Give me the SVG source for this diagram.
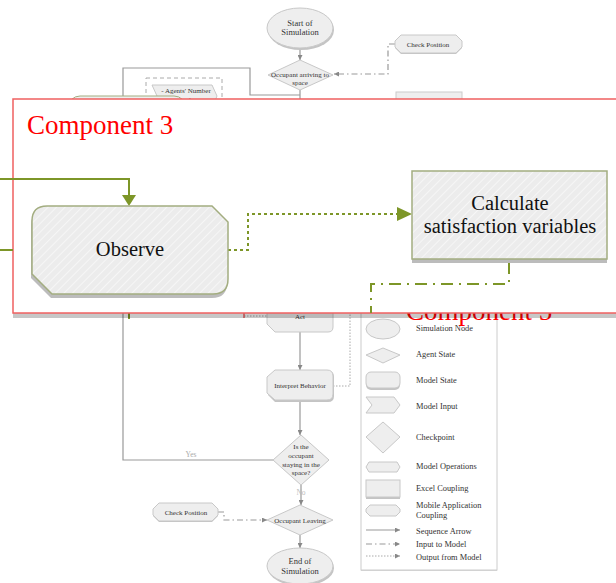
<svg xmlns="http://www.w3.org/2000/svg" width="616" height="583" viewBox="0 0 616 583">
<defs>
<pattern id="hatch" patternUnits="userSpaceOnUse" width="6" height="6" patternTransform="rotate(45)">
<rect width="6" height="6" fill="#ececec"/>
<line x1="0" y1="0" x2="0" y2="6" stroke="#f6f6f6" stroke-width="2"/>
</pattern>
<marker id="ag" viewBox="0 0 10 10" refX="10" refY="5" markerWidth="5" markerHeight="5" markerUnits="userSpaceOnUse" orient="auto">
<path d="M0,0 L10,5 L0,10 Z" fill="#888"/>
</marker>
</defs>
<style>
.t{font-family:"Liberation Serif","Times New Roman",serif;fill:#333;text-anchor:middle}
.s7{font-size:7px}
.s8{font-size:8.5px}
.lg{font-family:"Liberation Serif","Times New Roman",serif;fill:#333;font-size:8.4px}
.nd{fill:#eeeeee;stroke:#c8c8c8;stroke-width:1}
.sh{fill:#c4c4c4}
.fl{fill:none;stroke:#999;stroke-width:1.2}
.dd{fill:none;stroke:#999;stroke-width:1.2;stroke-dasharray:6,3,1.5,3}
.dt{fill:none;stroke:#aaa;stroke-width:1;stroke-dasharray:1.5,1.5}
.big{fill:url(#hatch);stroke:#a3ad80;stroke-width:1.5}
.ol{fill:none;stroke:#7d9628;stroke-width:2}
</style>

<g id="connectors">
<line class="fl" x1="300" y1="48" x2="300" y2="60" marker-end="url(#ag)"/>
<polyline class="fl" points="273,460 123,460 123,68 250,68 250,95 300,95"/>
<line class="fl" x1="300" y1="90" x2="300" y2="110"/>
<polyline class="dd" points="395,44 388,44 388,74 334,74" marker-end="url(#ag)"/>
<rect x="146" y="78" width="76" height="40" fill="none" stroke="#aaa" stroke-width="1" stroke-dasharray="4,3"/>
<line class="fl" x1="300" y1="332" x2="300" y2="370" marker-end="url(#ag)"/>
<polyline class="dt" points="333,386 350,386 350,300"/>
<line class="dt" x1="244" y1="316" x2="267" y2="316"/>
<line class="fl" x1="300" y1="400" x2="300" y2="435" marker-end="url(#ag)"/>
<line class="fl" x1="301" y1="485" x2="301" y2="505" marker-end="url(#ag)"/>
<polyline class="dd" points="218,512 224,512 224,520 267,520" marker-end="url(#ag)"/>
<line class="fl" x1="300" y1="535" x2="300" y2="548" marker-end="url(#ag)"/>
<line x1="129" y1="305" x2="129" y2="319" stroke="#7d9628" stroke-width="2"/>
<line x1="244" y1="305" x2="244" y2="318" stroke="#f06060" stroke-width="1.5"/>
</g>

<g id="start">
<ellipse cx="301" cy="30" rx="33" ry="20" class="sh"/>
<ellipse cx="300" cy="28" rx="33" ry="20" class="nd"/>
<text class="t s8" x="300" y="26">Start of</text>
<text class="t s8" x="300" y="35">Simulation</text>
</g>
<g id="arriving">
<polygon points="300,60 333,75 300,90 268,75" class="nd"/>
<text class="t s7" x="300" y="76.5">Occupant arriving to</text>
<text class="t s7" x="300" y="85">space</text>
</g>
<g id="check-top">
<polygon points="401,36 456,36 462,42 462,48 456,54 401,54 395,48 395,42" class="sh"/>
<polygon points="401,35 456,35 462,41 462,47 456,53 401,53 395,47 395,41" class="nd"/>
<text class="t s7" x="428" y="46.5">Check Position</text>
</g>
<g id="agents">
<polygon points="152,85 212,85 217,96 212,108 152,108 157,96" class="nd"/>
<text class="t s7" x="186" y="93">- Agents' Number</text>
<text class="t s7" x="190" y="102">value</text>
</g>
<g id="hidden-left">
<rect x="68" y="96" width="118" height="40" rx="12" fill="#eee" stroke="#a3ad80" stroke-width="1"/>
</g>
<g id="hidden-right">
<rect x="396" y="92" width="66" height="30" fill="#eee" stroke="#ccc" stroke-width="1"/>
</g>

<g id="act">
<path d="M267,300 H328 Q333,300 333,305 V327 Q333,332 328,332 H275 L267,324 Z" class="nd"/>
<text class="t s7" x="300" y="318.5">Act</text>
</g>
<g id="interpret">
<path d="M275,371 H328 Q334,371 334,377 V396 Q334,402 328,402 H275 L268,395 V378 Z" class="sh"/>
<path d="M275,370 H327 Q333,370 333,376 V394 Q333,400 327,400 H275 L267,393 V377 Z" class="nd"/>
<text class="t s7" x="300" y="387.5">Interpret Behavior</text>
</g>
<g id="staying">
<polygon points="301,435 329,460 301,485 273,460" class="nd"/>
<text class="t s7" x="301" y="449">Is the</text>
<text class="t s7" x="301" y="457.5">occupant</text>
<text class="t s7" x="301" y="466.5">staying in the</text>
<text class="t s7" x="301" y="475">space?</text>
</g>
<text x="191" y="457" font-family="Liberation Serif, serif" font-size="7.5" fill="#aaa" text-anchor="middle">Yes</text>
<text x="301" y="495" font-family="Liberation Serif, serif" font-size="7.5" fill="#bbb" text-anchor="middle">No</text>
<g id="leaving">
<polygon points="300,505 333,520 300,535 267,520" class="nd"/>
<text class="t s7" x="300" y="522.5">Occupant Leaving</text>
</g>
<g id="check-bottom">
<polygon points="159,504 212,504 218,510 218,516 212,522 159,522 153,516 153,510" class="sh"/>
<polygon points="159,503 212,503 218,509 218,515 212,521 159,521 153,515 153,509" class="nd"/>
<text class="t s7" x="186" y="515">Check Position</text>
</g>
<g id="end">
<ellipse cx="301" cy="568" rx="33" ry="18" class="sh"/>
<ellipse cx="300" cy="566" rx="33" ry="18" class="nd"/>
<text class="t s8" x="300" y="564">End of</text>
<text class="t s8" x="300" y="574">Simulation</text>
</g>

<g id="legend">
<rect x="361" y="290" width="136" height="281" fill="#d8d8d8"/>
<rect x="361" y="290" width="136" height="280" fill="#fff" stroke="#ccc" stroke-width="1"/>
<ellipse cx="383" cy="329" rx="17" ry="10" class="nd"/>
<polygon points="366,355 383,348 400,355 383,363" class="nd"/>
<rect x="366" y="374" width="34" height="16" rx="5" class="sh"/>
<rect x="366" y="372" width="34" height="16" rx="5" class="nd"/>
<polygon points="366,397 394,397 400,405 394,413 366,413 372,405" class="nd"/>
<polygon points="383,422 400,437 383,453 366,437" class="nd"/>
<polygon points="369,462 397,462 400,467 397,472 369,472 366,467" class="nd"/>
<rect x="366" y="482" width="34" height="17" class="sh"/>
<rect x="366" y="480" width="34" height="17" class="nd"/>
<polygon points="370,505 396,505 400,509 400,512 396,516 370,516 366,512 366,509" class="nd"/>
<line class="fl" x1="366" y1="530" x2="400" y2="530" marker-end="url(#ag)"/>
<line class="dd" x1="366" y1="544" x2="400" y2="544" marker-end="url(#ag)"/>
<line class="dt" x1="366" y1="556" x2="400" y2="556" marker-end="url(#ag)"/>
<text class="lg" x="416" y="331">Simulation Node</text>
<text class="lg" x="416" y="357">Agent State</text>
<text class="lg" x="416" y="383">Model State</text>
<text class="lg" x="416" y="409">Model Input</text>
<text class="lg" x="416" y="440">Checkpoint</text>
<text class="lg" x="416" y="469">Model Operations</text>
<text class="lg" x="416" y="491">Excel Coupling</text>
<text class="lg" x="416" y="508">Mobile Application</text>
<text class="lg" x="416" y="518">Coupling</text>
<text class="lg" x="416" y="534">Sequence Arrow</text>
<text class="lg" x="416" y="547">Input to Model</text>
<text class="lg" x="416" y="560">Output from Model</text>
</g>

<text id="component5" x="406" y="320" font-family="Liberation Serif, serif" font-size="27" fill="#f00">Component 5</text>

<g id="component3">
<rect x="13" y="312" width="603" height="6" fill="#000" opacity="0.22"/>
<rect x="13" y="99" width="610" height="214" fill="#fff" stroke="#f06060" stroke-width="1.5"/>
<text x="27" y="134" font-family="Liberation Serif, serif" font-size="27" fill="#f00">Component 3</text>
</g>

<g id="panel-connectors">
<polyline class="ol" points="0,179 129,179 129,195"/>
<path d="M122,195 L136,195 L129,206 Z" fill="#7d9628"/>
<line x1="0" y1="250" x2="13" y2="250" stroke="#7d9628" stroke-width="2"/>
<polyline class="ol" points="228,250 248,250 248,214 400,214" stroke-dasharray="3,3"/>
<path d="M397,207 L412,214 L397,221 Z" fill="#7d9628"/>
<polyline class="ol" points="509,262 509,284 371,284 371,313" stroke-dasharray="12,6,2,6"/>
</g>

<g id="observe">
<path d="M47,206 H212 L228,222 V279 Q228,294 213,294 H52 L32,274 V221 Q32,206 47,206 Z" fill="#bcbcbc" transform="translate(-1,4)"/>
<path d="M47,206 H212 L228,222 V279 Q228,294 213,294 H52 L32,274 V221 Q32,206 47,206 Z" class="big"/>
<text x="130" y="256" font-family="Liberation Serif, serif" font-size="20.5" fill="#111" text-anchor="middle">Observe</text>
</g>

<g id="calculate">
<rect x="412" y="175" width="195" height="88" fill="#bcbcbc"/>
<rect x="412" y="171" width="195" height="88" class="big"/>
<text x="510" y="210" font-family="Liberation Serif, serif" font-size="20.5" fill="#111" text-anchor="middle">Calculate</text>
<text x="510" y="233" font-family="Liberation Serif, serif" font-size="20.5" fill="#111" text-anchor="middle">satisfaction variables</text>
</g>
</svg>
